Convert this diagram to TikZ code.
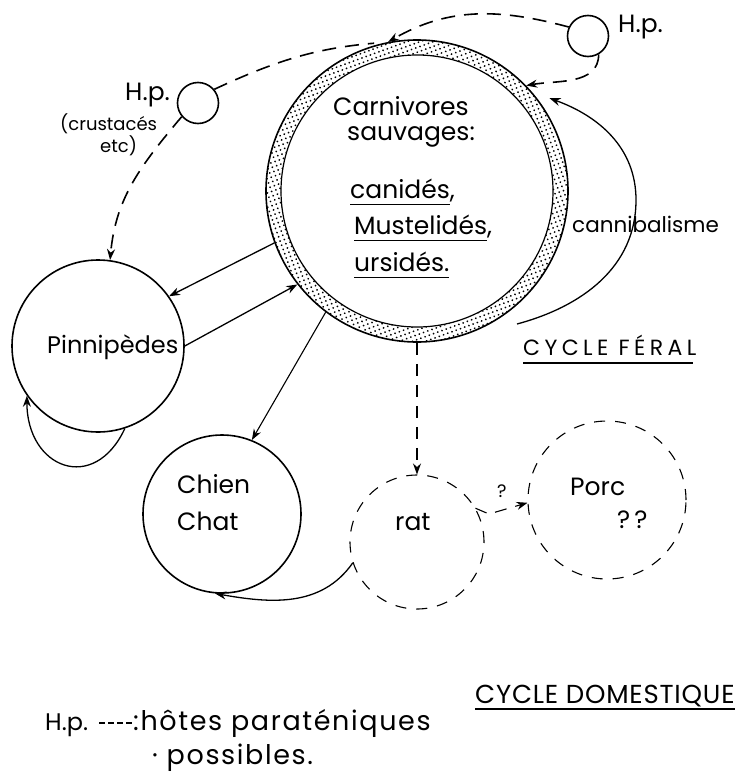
\documentclass[tikz,border=0pt]{standalone}
\usepackage{fontspec}
\setmainfont{Poppins}
\usetikzlibrary{arrows.meta, patterns.meta, calc}

\newcommand\souligner[1]{\setbox0\hbox{#1}\rlap{\rule[-7pt]{\wd0}{1.4pt}}\box0}

\tikzset{
  hote/.style={circle, draw, line width=1.6pt, inner sep=0pt},
  hotepos/.style={circle, draw, line width=1.1pt, dash pattern=on 11pt off 10pt, inner sep=0pt},
  txt/.style={inner sep=0pt, anchor=base west, font=\fontsize{25}{30}\selectfont},
  petit/.style={inner sep=0pt, anchor=base west, font=\fontsize{18}{20}\selectfont},
  titre/.style={txt, font=\fontsize{26}{30}\selectfont\addfontfeature{LetterSpace=3}},
  fl/.style={->, line width=1.3pt},
  hp/.style={line width=1.6pt, dash pattern=on 14pt off 9pt},
  ptrait/.style={line width=1.1pt, dash pattern=on 12pt off 9pt},
  souligne/.style={line width=1.5pt},
}

\begin{document}
\begin{tikzpicture}[x=1pt, y=1pt, >={Stealth[length=11pt, width=8pt]}]
  \useasboundingbox (0,0) rectangle (739,-774);
  % cercles
  \fill[pattern={Dots[distance=4.5pt, radius=1pt, angle=20]}, even odd rule]
    (417,-191) circle[radius=151pt] circle[radius=136pt]; %anneau
  \node[hote, minimum size=302pt] (carn) at (417,-191) {}; %carnivores sauvages
  \draw[line width=1.2pt] (carn.center) circle[radius=136pt]; %bord interieur
  \node[hote, minimum size=172pt] (pinn) at (98,-346) {}; %pinnipedes
  \node[hote, minimum size=158pt] (chien) at (222,-514) {}; %chien, chat
  \node[hotepos, minimum size=134pt] (rat) at (417,-542) {}; %rat
  \node[hotepos, minimum size=158pt] (porc) at (607,-500) {}; %porc
  \node[hote, minimum size=41pt] (hpa) at (198,-103) {}; %H.p. gauche
  \node[hote, minimum size=41pt] (hpb) at (588,-36) {}; %H.p. droite

  % textes
  \node[txt] (carnA) at (333,-115) {Carnivores};
  \node[txt] (carnB) at (347,-140) {sauvages:};
  \node[txt] (carnC) at (350,-198) {\souligner{canidés},};
  \node[txt] (carnD) at (354,-234) {\souligner{Mustelidés},};
  \node[txt] (carnE) at (354,-271) {\souligner{ursidés.}};
  \node[txt, font=\fontsize{24}{30}\selectfont] (pinnT) at (47,-353) {Pinnipèdes};
  \node[txt] (chienT) at (177,-493) {Chien};
  \node[txt] (chatT) at (177,-530) {Chat};
  \node[txt] (ratT) at (395,-530) {rat};
  \node[txt] (porcT) at (570,-495) {Porc};
  \node[txt] (porcQ) at (617,-528) {?\,?};
  \node[txt, font=\fontsize{21.5}{26}\selectfont] (canni) at (572,-232) {cannibalisme};
  \node[txt] (hpaT) at (125,-100) {H.p.};
  \node[txt] (hpbT) at (618,-32) {H.p.};
  \node[petit] (crust) at (60,-130) {(crustacés};
  \node[petit] (etc) at (100,-152) {etc)};
  \node[petit] (ratQ) at (497,-497) {?};
  \node[titre, font=\fontsize{22}{26}\selectfont\addfontfeature{LetterSpace=20}] (feral) at (523,-355) {CYCLE FÉRAL};
  \node[titre] (domest) at (475,-703) {CYCLE DOMESTIQUE};
  \draw[souligne] ($(feral.base west)+(0,-8)$) -- ($(feral.base east)+(-4,-8)$);
  \draw[souligne] ($(domest.base west)+(0,-6)$) -- ($(domest.base east)+(0,-6)$);

  % legende
  \node[txt, font=\fontsize{24}{30}\selectfont] (legA) at (45,-730) {H.p.};
  \node[txt, font=\fontsize{27}{30}\selectfont\addfontfeature{LetterSpace=6}] (legB) at (133,-730) {:hôtes paraténiques};
  \node[txt, font=\fontsize{27}{30}\selectfont\addfontfeature{LetterSpace=6}] (legC) at (152,-764) {·\ possibles.};
  \draw[line width=1.4pt, dash pattern=on 6pt off 3pt] ($(legA.base east)+(11,7)$) -- ($(legB.base west)+(0,7)$);

  % fleches
  \draw[fl] (carn.200) -- (pinn.35);
  \draw[fl] (pinn.0) -- (carn.218);
  \draw[fl, line width=1.1pt] (carn.233) -- (chien.68);
  \draw[fl, ptrait] (carn.270) -- (rat.90);
  \coordinate (coude) at (489,-514);
  \draw[fl, ptrait] (rat.30) -- (coude) -- (porc.182);
  \draw[fl] (rat.198) to[out=235, in=-10] (chien.265);
  \draw[fl] (pinn.288) to[out=-115, in=-90, looseness=1.8] (pinn.215);
  \coordinate (cannS) at (517,-324); %debut cannibalisme
  \coordinate (cannR) at (636,-200);
  \draw[fl] (cannS) to[out=15, in=-90] (cannR) to[out=90, in=-20] ([shift={(35:10)}]carn.35);
  \draw[hp, ->] (hpb.155) to[out=165, in=30] (carn.101);
  \draw[hp, shorten >=14pt] (hpa.40) to[out=25, in=185] (carn.101);
  \draw[hp, ->] (hpb.300) to[out=-90, in=10] (carn.44);
  \draw[hp, ->] (hpa.220) to[out=230, in=85] (pinn.82);
\end{tikzpicture}
\end{document}
